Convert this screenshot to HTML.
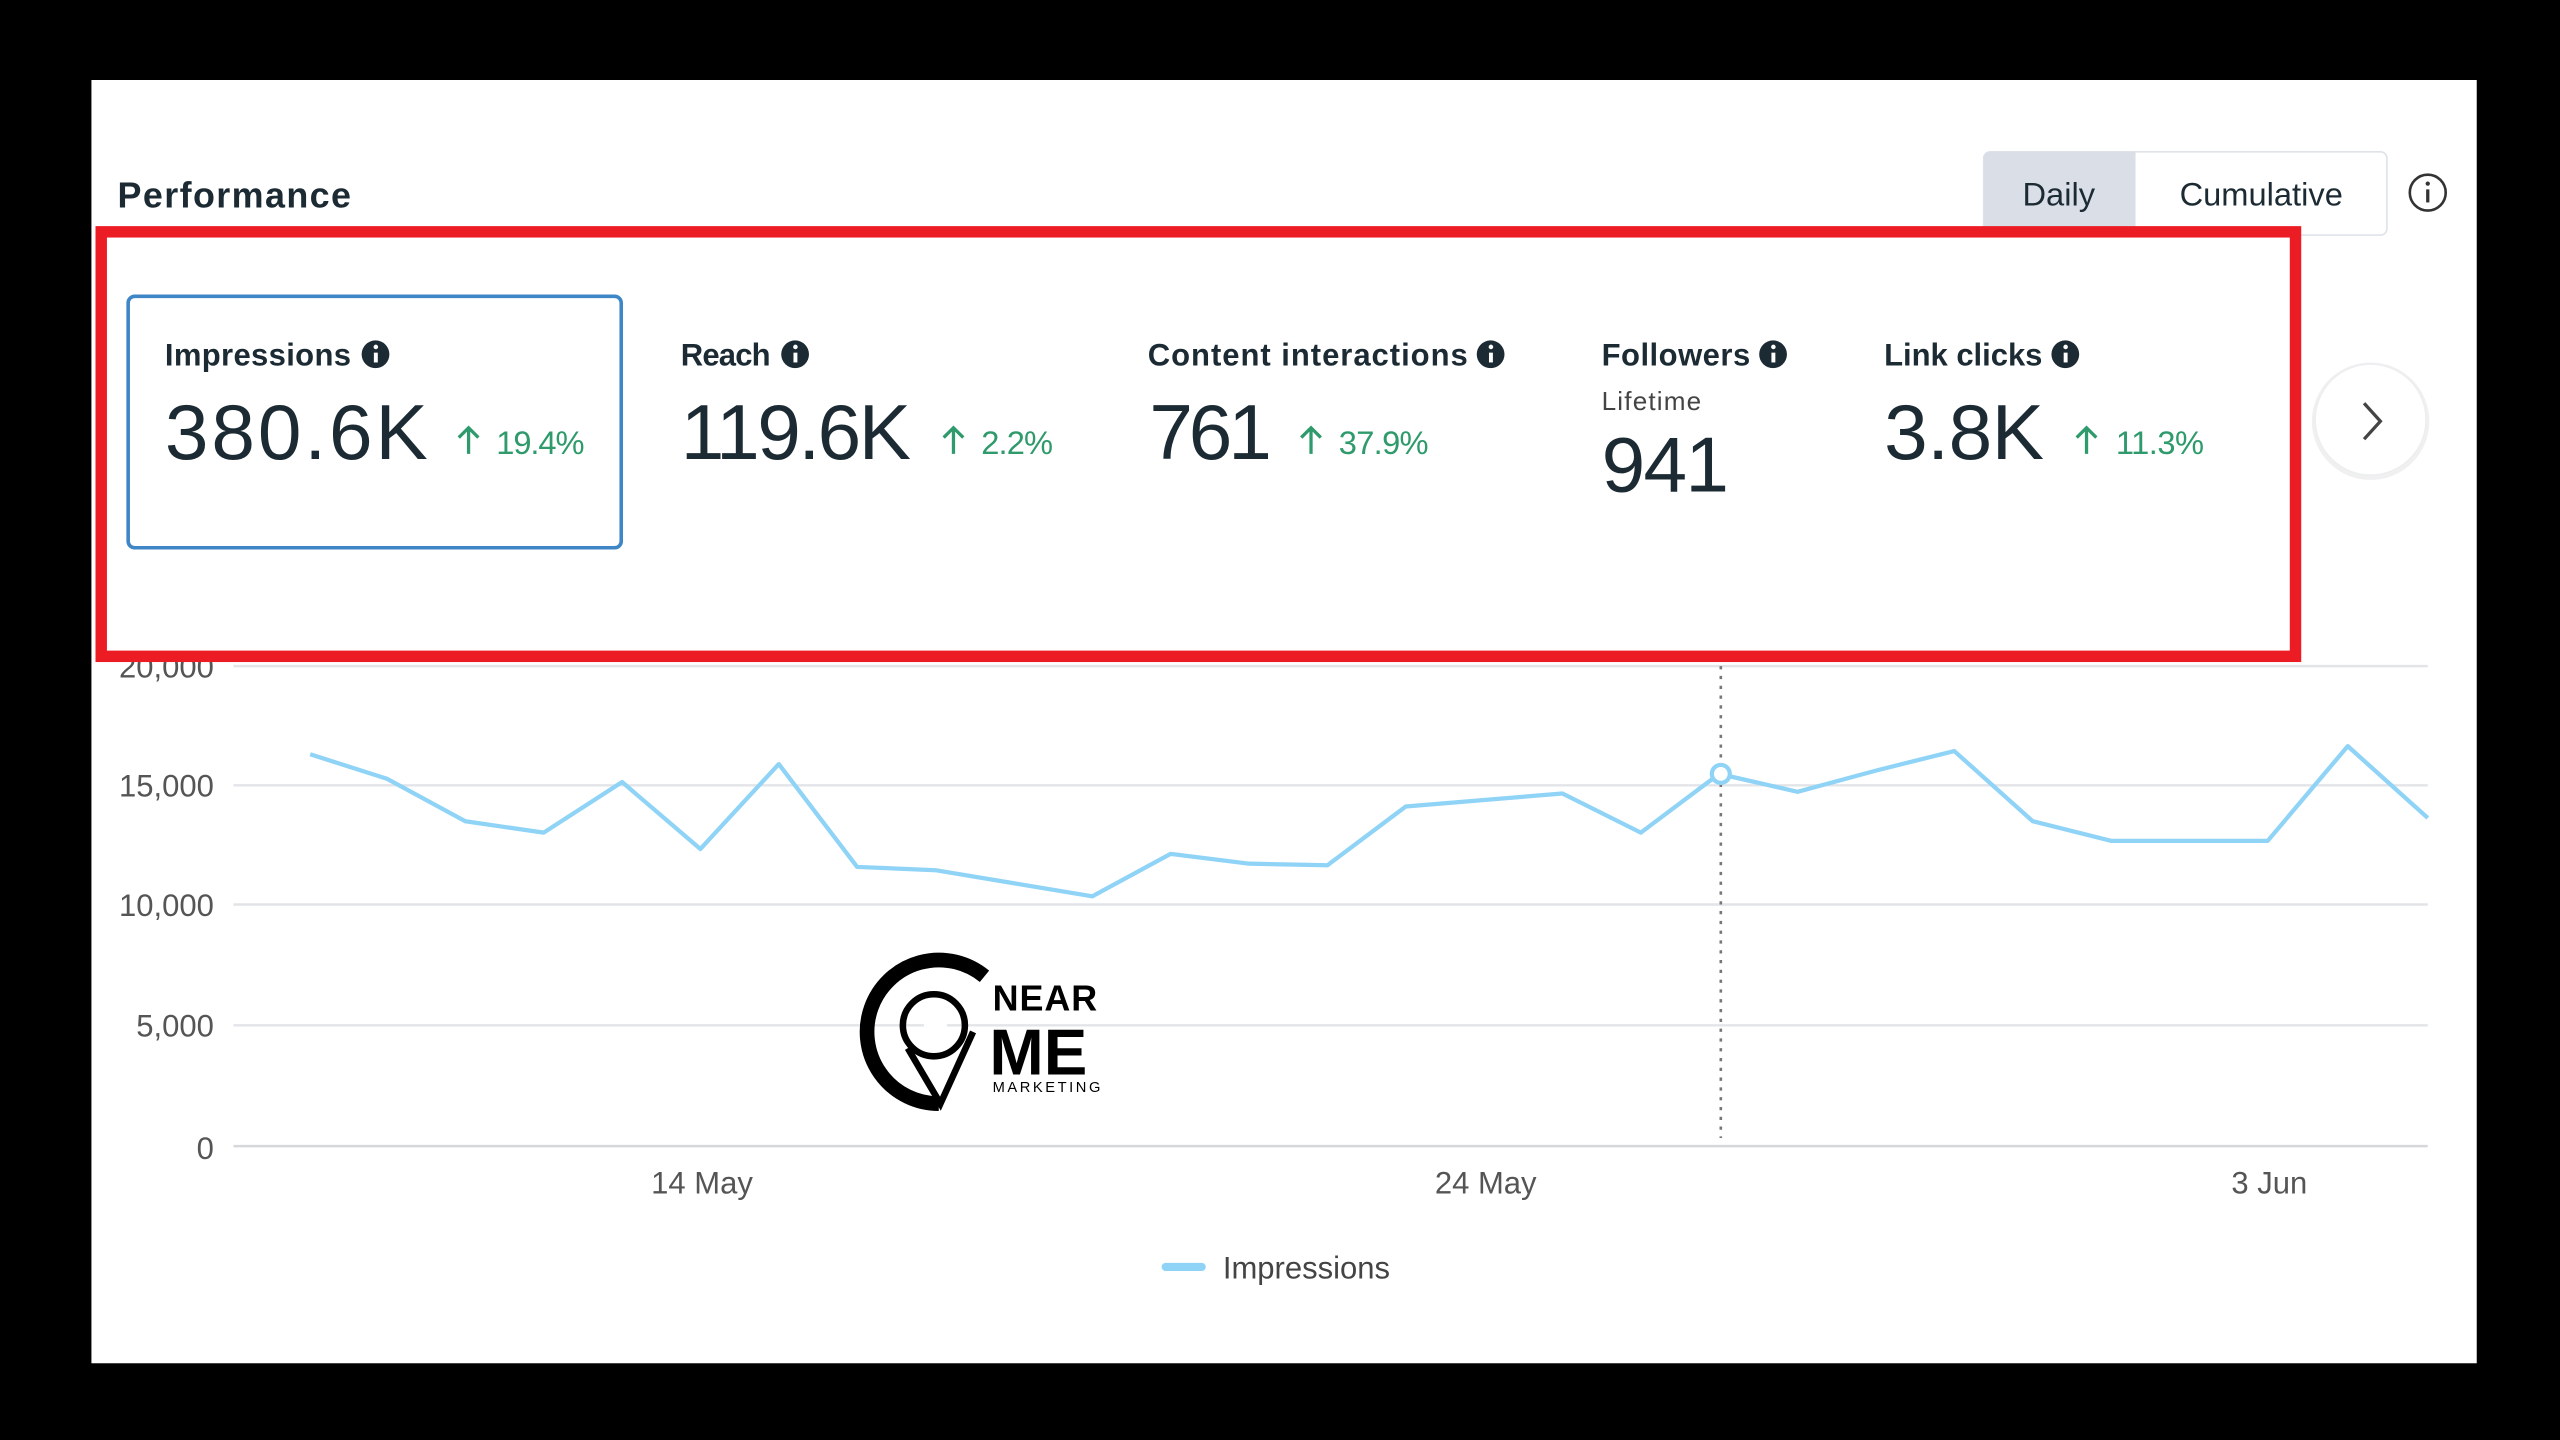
<!DOCTYPE html>
<html><head><meta charset="utf-8"><style>
html,body{margin:0;padding:0;background:#000;}
svg{display:block;}
text{font-family:"Liberation Sans",sans-serif;}
</style></head><body>
<svg width="2560" height="1440" viewBox="0 0 1568 882" preserveAspectRatio="none" xmlns="http://www.w3.org/2000/svg">
<rect x="0" y="0" width="1568" height="882" fill="#000"/>
<rect x="56" y="49" width="1461" height="786" fill="#fff"/>
<text x="72" y="127" font-size="22" font-weight="bold" fill="#1c2b33" textLength="143">Performance</text>
<!-- toggle -->
<rect x="1215" y="93" width="247" height="51" rx="4" fill="#fff" stroke="#dfe3e8" stroke-width="1"/>
<path d="M1219 93 H1308 V144 H1219 a4 4 0 0 1 -4 -4 V97 a4 4 0 0 1 4 -4z" fill="#d9dee7"/>
<text x="1261" y="126" font-size="20" fill="#1c2b33" text-anchor="middle">Daily</text>
<text x="1385" y="126" font-size="20" fill="#1c2b33" text-anchor="middle">Cumulative</text>
<circle cx="1487" cy="118" r="11" fill="none" stroke="#333" stroke-width="1.6"/>
<rect x="1486" y="116" width="2" height="8" fill="#333"/><circle cx="1487" cy="112.5" r="1.3" fill="#333"/>
<!-- chart grid -->
<g stroke="#e2e4e8" stroke-width="1.5">
<line x1="143" y1="408" x2="1487" y2="408"/>
<line x1="143" y1="481" x2="1487" y2="481"/>
<line x1="143" y1="554" x2="1487" y2="554"/>
<line x1="143" y1="628" x2="1487" y2="628"/>
<line x1="143" y1="702" x2="1487" y2="702" stroke="#d5d7db"/>
</g>
<g font-size="19" fill="#555" text-anchor="end">
<text x="131" y="415">20,000</text>
<text x="131" y="488">15,000</text>
<text x="131" y="561">10,000</text>
<text x="131" y="635">5,000</text>
<text x="131" y="710">0</text>
</g>
<g font-size="19" fill="#555" text-anchor="middle">
<text x="430" y="731">14 May</text>
<text x="910" y="731">24 May</text>
<text x="1390" y="731">3 Jun</text>
</g>
<line x1="1054" y1="408" x2="1054" y2="697" stroke="#777" stroke-width="1.6" stroke-dasharray="2,4"/>
<polyline fill="none" stroke="#8fd3f6" stroke-width="2.6" stroke-linejoin="round" points="190,462 237,477 285,503 333,510 381,479 429,520 477,468 525,531 573,533 621,541 669,549 717,523 765,529 813,530 861,494 909,490 957,486 1005,510 1053,474 1101,485 1149,472 1197,460 1245,503 1293,515 1341,515 1389,515 1438,457 1487,501"/>
<circle cx="1054" cy="474" r="5.5" fill="#fff" stroke="#8fd3f6" stroke-width="2.6"/>
<!-- legend -->
<line x1="714" y1="776" x2="736" y2="776" stroke="#8fd3f6" stroke-width="5" stroke-linecap="round"/>
<text x="749" y="783" font-size="19" fill="#444">Impressions</text>
<!-- logo -->
<g>
<path d="M575 676 A44 44 0 1 1 603 598" fill="none" stroke="#000" stroke-width="9"/>
<circle cx="572" cy="628" r="19" fill="none" stroke="#000" stroke-width="4"/>
<path d="M556 642 L576 676 L596 632" fill="none" stroke="#000" stroke-width="4"/>
<rect x="566" y="626" width="14" height="8" fill="#fff"/>
<text x="608" y="619" font-size="22" font-weight="bold" fill="#000" textLength="64">NEAR</text>
<text x="606" y="658" font-size="40" font-weight="bold" fill="#000">ME</text>
<text x="608" y="669" font-size="9" fill="#000" textLength="66">MARKETING</text>
</g>
<!-- red box -->
<rect x="62" y="142" width="1344" height="260" fill="#fff" stroke="#ec1c24" stroke-width="7"/>
<!-- selected card -->
<rect x="78.5" y="181.5" width="302" height="154" rx="4" fill="#fff" stroke="#3f86c6" stroke-width="2.2"/>
<g font-size="19" font-weight="bold" fill="#1c2b33">
<text x="101" y="224" textLength="114">Impressions</text>
<text x="417" y="224" textLength="55">Reach</text>
<text x="703" y="224" textLength="196">Content interactions</text>
<text x="981" y="224" textLength="91">Followers</text>
<text x="1154" y="224" textLength="97">Link clicks</text>
</g>
<g fill="#1c2b33">
<circle cx="230" cy="217" r="8.5"/><circle cx="487" cy="217" r="8.5"/><circle cx="913" cy="217" r="8.5"/><circle cx="1086" cy="217" r="8.5"/><circle cx="1265" cy="217" r="8.5"/>
</g>
<g fill="#fff">
<rect x="229" y="216" width="2.4" height="6"/><circle cx="230.2" cy="212.5" r="1.4"/>
<rect x="486" y="216" width="2.4" height="6"/><circle cx="487.2" cy="212.5" r="1.4"/>
<rect x="912" y="216" width="2.4" height="6"/><circle cx="913.2" cy="212.5" r="1.4"/>
<rect x="1085" y="216" width="2.4" height="6"/><circle cx="1086.2" cy="212.5" r="1.4"/>
<rect x="1264" y="216" width="2.4" height="6"/><circle cx="1265.2" cy="212.5" r="1.4"/>
</g>
<g font-size="48" fill="#1c2b33">
<text x="101" y="281" textLength="161">380.6K</text>
<text x="417" y="281" textLength="141">119.6K</text>
<text x="704" y="281" textLength="75">761</text>
<text x="981" y="301" textLength="78">941</text>
<text x="1154" y="281" textLength="98">3.8K</text>
</g>
<text x="981" y="251" font-size="16" fill="#444" textLength="61">Lifetime</text>
<g font-size="20" fill="#2f9a6b">
<text x="304" y="278" textLength="54">19.4%</text>
<text x="601" y="278" textLength="44">2.2%</text>
<text x="820" y="278" textLength="55">37.9%</text>
<text x="1296" y="278" textLength="54">11.3%</text>
</g>
<g fill="none" stroke="#2f9a6b" stroke-width="2">
<path d="M287 278 V262 M281 268 L287 262 L293 268"/>
<path d="M584 278 V262 M578 268 L584 262 L590 268"/>
<path d="M803 278 V262 M797 268 L803 262 L809 268"/>
<path d="M1278 278 V262 M1272 268 L1278 262 L1284 268"/>
</g>
<!-- next button -->
<circle cx="1452" cy="258" r="36" fill="#000" opacity="0.06"/>
<circle cx="1452" cy="257" r="34" fill="#fff" stroke="#eceef0" stroke-width="1"/>
<polyline points="1448,247 1458,258 1448,269" fill="none" stroke="#444" stroke-width="2"/>
</svg>
</body></html>
